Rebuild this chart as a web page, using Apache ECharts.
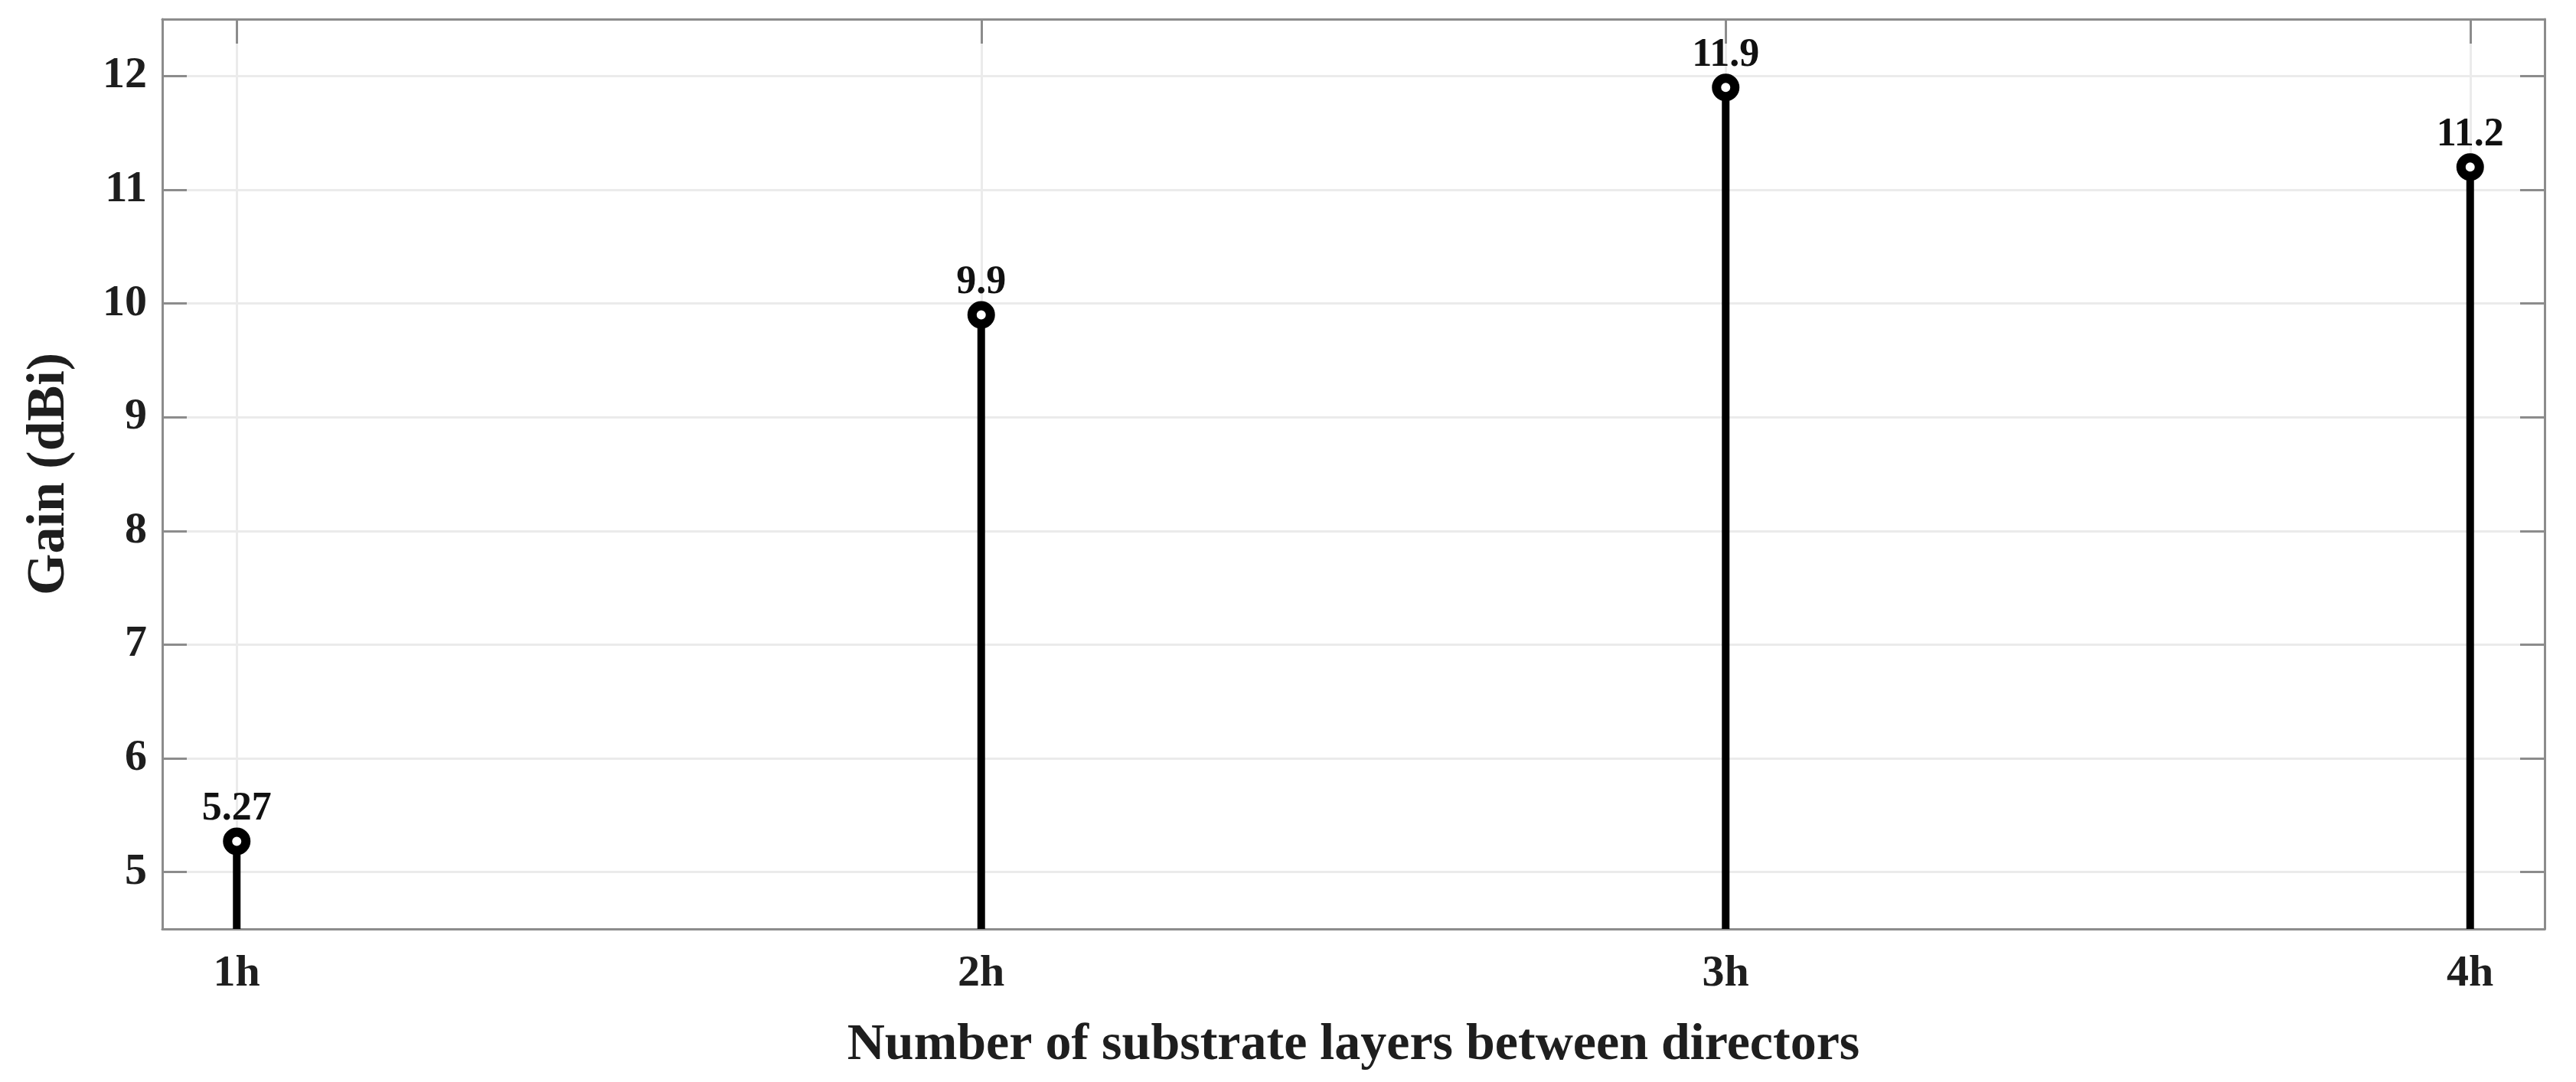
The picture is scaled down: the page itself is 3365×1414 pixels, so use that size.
<!DOCTYPE html>
<html>
<head>
<meta charset="utf-8">
<script src="https://cdn.jsdelivr.net/npm/echarts@6/dist/echarts.min.js"></script>
<style>
html,body{margin:0;padding:0;background:#fff;}
#chart{width:3365px;height:1414px;}
</style>
</head>
<body>
<div id="chart"></div>
<script>
const categories = ['1h', '2h', '3h', '4h'];
const xPositions = [1, 2, 3, 4];
const gainValues = [5.27, 9.9, 11.9, 11.2];
const valueLabels = ['5.27', '9.9', '11.9', '11.2'];
const yTicks = [5, 6, 7, 8, 9, 10, 11, 12];
const xName = 'Number of substrate layers between directors';
const yName = 'Gain (dBi)';

const FONT = '"Liberation Serif", "DejaVu Serif", serif';
const TXT = '#1e1e1e';
const AX = '#8c8c8c';

const points = xPositions.map((x, i) => [x, gainValues[i]]);

const chart = echarts.init(document.getElementById('chart'), null, {renderer: 'canvas'});

const baseX = {
  type: 'value', min: 0.9, max: 4.1,
  axisLine: {show: true, lineStyle: {color: AX, width: 3}},
  axisTick: {show: true, inside: true, length: 32, customValues: xPositions, lineStyle: {color: AX, width: 3}},
  axisLabel: {show: false},
  splitLine: {show: false}
};
const baseY = {
  type: 'value', min: 4.5, max: 12.5,
  axisLine: {show: true, lineStyle: {color: AX, width: 3}},
  axisTick: {show: true, inside: true, length: 32, customValues: yTicks, lineStyle: {color: AX, width: 3}},
  axisLabel: {show: false},
  splitLine: {show: false}
};

chart.setOption({
  backgroundColor: '#ffffff',
  animation: false,
  grid: {left: 212, top: 25, right: 41, bottom: 200, containLabel: false},
  xAxis: [
    Object.assign({}, baseX, {
      position: 'bottom',
      name: xName, nameLocation: 'middle', nameGap: 118,
      nameTextStyle: {fontFamily: FONT, fontWeight: 'bold', fontSize: 68, color: TXT},
      axisLabel: {show: true, customValues: xPositions, margin: 30,
        formatter: v => categories[xPositions.indexOf(v)] || '',
        fontFamily: FONT, fontWeight: 'bold', fontSize: 58, color: TXT},
      splitLine: {show: true, lineStyle: {color: '#ebebeb', width: 3}}
    }),
    Object.assign({}, baseX, {position: 'top'})
  ],
  yAxis: [
    Object.assign({}, baseY, {
      position: 'left',
      name: yName, nameLocation: 'middle', nameGap: 112, nameRotate: 90,
      nameTextStyle: {fontFamily: FONT, fontWeight: 'bold', fontSize: 70, color: TXT},
      axisLabel: {show: true, customValues: yTicks, margin: 20,
        fontFamily: FONT, fontWeight: 'bold', fontSize: 58, color: TXT},
      splitLine: {show: true, lineStyle: {color: '#ebebeb', width: 3}}
    }),
    Object.assign({}, baseY, {position: 'right'})
  ],
  series: [
    {
      type: 'bar', xAxisIndex: 0, yAxisIndex: 0,
      data: points, barWidth: 10,
      itemStyle: {color: '#000'},
      z: 3
    },
    {
      type: 'scatter', xAxisIndex: 0, yAxisIndex: 0,
      data: points, symbol: 'circle', symbolSize: 24,
      itemStyle: {color: '#fff', borderColor: '#000', borderWidth: 12, opacity: 1},
      label: {show: true, position: 'top', distance: -2,
        formatter: p => valueLabels[p.dataIndex],
        fontFamily: FONT, fontWeight: 'bold', fontSize: 52, color: '#111', textBorderWidth: 0},
      z: 5
    }
  ]
});
</script>
</body>
</html>
